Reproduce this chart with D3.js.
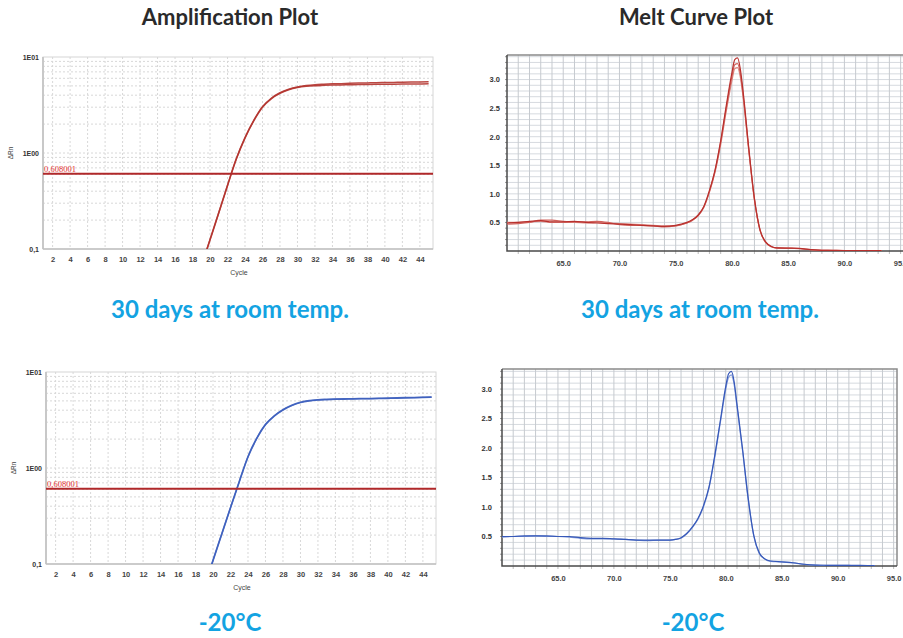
<!DOCTYPE html>
<html>
<head>
<meta charset="utf-8">
<script src="https://cdn.jsdelivr.net/npm/d3@7"></script>
<style>
body { margin: 0; background: #fff; }
svg { display: block; }
</style>
</head>
<body>
<svg id="chart" width="903" height="638"></svg>
<script>
// amplification data (delta Rn per cycle, from cycle 19 on; earlier cycles sit below 0.1)
var ampCycles = [19, 20, 21, 22, 23, 24, 25, 26, 27, 28, 29, 30, 31, 32, 33, 34, 35, 36, 37, 38, 39, 40, 41, 42, 43, 44, 45];
var ampRedA = [0.066, 0.126, 0.24, 0.462, 0.87, 1.45, 2.19, 3.04, 3.72, 4.24, 4.62, 4.88, 5.04, 5.14, 5.2, 5.25, 5.28, 5.32, 5.35, 5.37, 5.4, 5.42, 5.44, 5.47, 5.48, 5.5, 5.51];
var ampRedB = [0.065, 0.124, 0.237, 0.456, 0.86, 1.43, 2.16, 3.0, 3.67, 4.18, 4.55, 4.8, 4.95, 5.03, 5.07, 5.1, 5.12, 5.14, 5.16, 5.18, 5.19, 5.2, 5.21, 5.22, 5.23, 5.24, 5.25];
var ampBlueA = [0.058, 0.11, 0.207, 0.389, 0.724, 1.32, 2.05, 2.85, 3.5, 4.05, 4.5, 4.85, 5.05, 5.15, 5.2, 5.24, 5.26, 5.27, 5.29, 5.31, 5.33, 5.35, 5.38, 5.41, 5.44, 5.46, 5.5];
var ampBlueB = [0.057, 0.108, 0.204, 0.384, 0.716, 1.3, 2.02, 2.82, 3.47, 4.02, 4.46, 4.8, 5.0, 5.1, 5.15, 5.19, 5.21, 5.23, 5.25, 5.27, 5.29, 5.31, 5.34, 5.37, 5.4, 5.43, 5.47];
var threshold = 0.608001;
var cycleTicks = [2, 4, 6, 8, 10, 12, 14, 16, 18, 20, 22, 24, 26, 28, 30, 32, 34, 36, 38, 40, 42, 44];
var rnTicks = [0.1, 1, 10];
var rnTickLabels = ['0,1', '1E00', '1E01'];

// melt curve data (derivative reporter vs temperature)
var meltTemps = [60, 61, 62, 63, 64, 65, 66, 67, 68, 69, 70, 71, 72, 73, 74, 75, 75.5, 76, 76.5, 77, 77.5, 78, 78.5, 79, 79.5, 80, 80.25, 80.5, 80.75, 81, 81.5, 82, 82.5, 83, 83.5, 84, 85, 86, 87, 88, 89, 90, 91, 92, 93.3];
var meltRedA = [0.49, 0.5, 0.52, 0.53, 0.51, 0.51, 0.52, 0.5, 0.49, 0.48, 0.47, 0.46, 0.45, 0.44, 0.43, 0.45, 0.47, 0.5, 0.55, 0.63, 0.78, 1.06, 1.42, 1.93, 2.55, 3.12, 3.35, 3.38, 3.18, 2.78, 1.8, 0.92, 0.37, 0.16, 0.08, 0.055, 0.05, 0.045, 0.025, 0.012, 0.01, 0.008, 0.007, 0.006, 0.005];
var meltRedB = [0.47, 0.48, 0.5, 0.54, 0.54, 0.52, 0.51, 0.51, 0.52, 0.5, 0.46, 0.45, 0.45, 0.44, 0.42, 0.44, 0.46, 0.49, 0.54, 0.62, 0.77, 1.04, 1.4, 1.9, 2.5, 3.05, 3.26, 3.28, 3.1, 2.72, 1.77, 0.9, 0.36, 0.15, 0.075, 0.05, 0.048, 0.04, 0.022, 0.01, 0.009, 0.007, 0.006, 0.005, 0.004];
var meltRedC = [0.5, 0.5, 0.51, 0.52, 0.5, 0.5, 0.5, 0.49, 0.5, 0.49, 0.48, 0.47, 0.46, 0.45, 0.44, 0.44, 0.46, 0.49, 0.54, 0.62, 0.76, 1.03, 1.38, 1.86, 2.45, 2.98, 3.19, 3.21, 3.04, 2.68, 1.75, 0.9, 0.36, 0.15, 0.08, 0.055, 0.05, 0.044, 0.024, 0.012, 0.01, 0.008, 0.007, 0.006, 0.005];
var meltBlueA = [0.5, 0.5, 0.51, 0.51, 0.51, 0.5, 0.5, 0.48, 0.47, 0.47, 0.46, 0.45, 0.44, 0.44, 0.44, 0.44, 0.45, 0.48, 0.55, 0.66, 0.8, 1.02, 1.34, 1.86, 2.45, 3.05, 3.26, 3.3, 3.12, 2.74, 1.98, 1.15, 0.52, 0.22, 0.12, 0.085, 0.07, 0.055, 0.03, 0.016, 0.012, 0.01, 0.01, 0.009, 0.008];
var meltBlueB = [0.49, 0.5, 0.5, 0.51, 0.5, 0.5, 0.49, 0.47, 0.46, 0.46, 0.46, 0.45, 0.44, 0.43, 0.44, 0.44, 0.45, 0.47, 0.54, 0.65, 0.79, 1.0, 1.32, 1.83, 2.42, 3.0, 3.2, 3.24, 3.07, 2.7, 1.95, 1.13, 0.51, 0.21, 0.115, 0.08, 0.068, 0.053, 0.028, 0.015, 0.011, 0.01, 0.009, 0.008, 0.008];
var tempTicks = [65, 70, 75, 80, 85, 90, 95];
var derivTicks = [0.5, 1.0, 1.5, 2.0, 2.5, 3.0];

var svg = d3.select('#chart');
var tickFont = 'Liberation Sans, Arial, sans-serif';

function zip(xs, ys) {
    return xs.map(function(x, i) { return [x, ys[i]]; });
}

function ampPlot(box, series, colour, id) {
    var x = d3.scaleLinear().domain([0.9, 45.5]).range([box.x0, box.x1]);
    var y = d3.scaleLog().domain([0.1, 10]).range([box.y1, box.y0]);
    var g = svg.append('g');

    g.append('clipPath').attr('id', id)
        .append('rect')
        .attr('x', box.x0).attr('y', box.y0)
        .attr('width', box.x1 - box.x0).attr('height', box.y1 - box.y0);

    // dashed grid
    var minor = [];
    [0.1, 1].forEach(function(d) {
        for (var k = 2; k <= 9; k++) minor.push(d * k);
    });
    g.selectAll('.hgrid').data(minor.concat([1])).enter().append('line')
        .attr('x1', box.x0).attr('x2', box.x1)
        .attr('y1', function(d) { return y(d); })
        .attr('y2', function(d) { return y(d); })
        .attr('stroke', '#d8d8d8').attr('stroke-dasharray', '2,2');
    g.selectAll('.vgrid').data(cycleTicks).enter().append('line')
        .attr('y1', box.y0).attr('y2', box.y1)
        .attr('x1', function(d) { return x(d); })
        .attr('x2', function(d) { return x(d); })
        .attr('stroke', '#d8d8d8').attr('stroke-dasharray', '2,2');

    // frame
    g.append('rect')
        .attr('x', box.x0).attr('y', box.y0)
        .attr('width', box.x1 - box.x0).attr('height', box.y1 - box.y0)
        .attr('fill', 'none').attr('stroke', '#d6d6d6');
    g.append('line')
        .attr('x1', box.x0).attr('x2', box.x0)
        .attr('y1', box.y0).attr('y2', box.y1)
        .attr('stroke', '#c8c8c8').attr('stroke-width', 2);
    g.append('line')
        .attr('x1', box.x0).attr('x2', box.x1)
        .attr('y1', box.y1).attr('y2', box.y1)
        .attr('stroke', '#c0c0c0').attr('stroke-width', 1.5);

    // axes text
    var xAxis = d3.axisBottom(x).tickValues(cycleTicks).tickSize(0).tickPadding(8);
    var ax = g.append('g').attr('transform', 'translate(0,' + box.y1 + ')').call(xAxis);
    ax.select('.domain').remove();
    ax.selectAll('text').attr('font-family', tickFont).attr('font-size', 7.5)
        .attr('font-weight', 'bold').attr('fill', '#444');

    var yAxis = d3.axisLeft(y).tickValues(rnTicks).tickSize(0).tickPadding(4)
        .tickFormat(function(d, i) { return rnTickLabels[i]; });
    var ay = g.append('g').attr('transform', 'translate(' + box.x0 + ',0)').call(yAxis);
    ay.select('.domain').remove();
    ay.selectAll('text').attr('font-family', tickFont).attr('font-size', 7)
        .attr('font-weight', 'bold').attr('fill', '#333');

    g.append('text')
        .attr('transform', 'translate(' + (box.x0 - 30) + ',' + y(1) + ') rotate(-90)')
        .attr('text-anchor', 'middle')
        .attr('font-family', tickFont).attr('font-size', 6.5).attr('fill', '#444')
        .text('ΔRn');
    g.append('text')
        .attr('x', (box.x0 + box.x1) / 2 + 1).attr('y', box.y1 + 26)
        .attr('text-anchor', 'middle')
        .attr('font-family', tickFont).attr('font-size', 7).attr('fill', '#444')
        .text('Cycle');

    // curves
    var line = d3.line()
        .x(function(d) { return x(d[0]); })
        .y(function(d) { return y(d[1]); })
        .curve(d3.curveMonotoneX);
    var plot = g.append('g').attr('clip-path', 'url(#' + id + ')');
    series.forEach(function(s) {
        plot.append('path')
            .datum(zip(ampCycles, s))
            .attr('d', line)
            .attr('fill', 'none')
            .attr('stroke', colour).attr('stroke-width', 1.5).attr('stroke-opacity', 0.9);
    });

    // threshold
    g.append('line')
        .attr('x1', box.x0).attr('x2', box.x1)
        .attr('y1', y(threshold)).attr('y2', y(threshold))
        .attr('stroke', '#b0282a').attr('stroke-width', 2);
    g.append('text')
        .attr('x', box.x0 + 1).attr('y', y(threshold) - 2)
        .attr('font-family', 'Liberation Serif, Times New Roman, serif')
        .attr('font-size', 8.5).attr('fill', '#e2312f')
        .text('0,608001');
}

function meltPlot(box, series, colours, id) {
    var x = d3.scaleLinear().domain([60, 95.3]).range([box.x0, box.x1]);
    var y = d3.scaleLinear().domain([0, box.ymax]).range([box.y1, box.y0]);
    var g = svg.append('g');

    g.append('clipPath').attr('id', id)
        .append('rect')
        .attr('x', box.x0).attr('y', box.y0)
        .attr('width', box.x1 - box.x0).attr('height', box.y1 - box.y0);

    var hLines = d3.range(1, Math.floor(box.ymax * 10) + 1).map(function(k) { return k / 10; });
    var vLines = d3.range(61, 96);
    g.selectAll('.hgrid').data(hLines).enter().append('line')
        .attr('x1', box.x0).attr('x2', box.x1)
        .attr('y1', function(d) { return y(d); })
        .attr('y2', function(d) { return y(d); })
        .attr('stroke', '#d6dadf').attr('stroke-width', 1);
    g.selectAll('.vgrid').data(vLines).enter().append('line')
        .attr('y1', box.y0).attr('y2', box.y1)
        .attr('x1', function(d) { return x(d); })
        .attr('x2', function(d) { return x(d); })
        .attr('stroke', '#c6cacf').attr('stroke-width', 1);

    // small ticks outside the frame
    g.selectAll('.ytick').data(hLines).enter().append('line')
        .attr('x1', box.x0 - 2).attr('x2', box.x0)
        .attr('y1', function(d) { return y(d); })
        .attr('y2', function(d) { return y(d); })
        .attr('stroke', '#999');
    g.selectAll('.xtick').data(vLines).enter().append('line')
        .attr('y1', box.y1).attr('y2', box.y1 + 3)
        .attr('x1', function(d) { return x(d); })
        .attr('x2', function(d) { return x(d); })
        .attr('stroke', '#bbb');

    // frame
    g.append('path')
        .attr('d', 'M' + box.x0 + ',' + box.y0 + 'H' + box.x1 + 'V' + box.y1)
        .attr('fill', 'none').attr('stroke', '#8a8a8a').attr('stroke-width', 1.5);
    g.append('path')
        .attr('d', 'M' + box.x0 + ',' + box.y0 + 'V' + box.y1 + 'H' + box.x1)
        .attr('fill', 'none').attr('stroke', '#4a4a4a').attr('stroke-width', 1.5);

    var xAxis = d3.axisBottom(x).tickValues(tempTicks).tickSize(0).tickPadding(10)
        .tickFormat(d3.format('.1f'));
    var ax = g.append('g').attr('transform', 'translate(0,' + box.y1 + ')').call(xAxis);
    ax.select('.domain').remove();
    ax.selectAll('text').attr('font-family', tickFont).attr('font-size', 7.5)
        .attr('font-weight', 'bold').attr('fill', '#444');

    var yAxis = d3.axisLeft(y).tickValues(derivTicks).tickSize(0).tickPadding(box.pad)
        .tickFormat(d3.format('.1f'));
    var ay = g.append('g').attr('transform', 'translate(' + box.x0 + ',0)').call(yAxis);
    ay.select('.domain').remove();
    ay.selectAll('text').attr('font-family', tickFont).attr('font-size', 7.5)
        .attr('font-weight', 'bold').attr('fill', '#333');

    var line = d3.line()
        .x(function(d) { return x(d[0]); })
        .y(function(d) { return y(d[1]); })
        .curve(d3.curveMonotoneX);
    var plot = g.append('g').attr('clip-path', 'url(#' + id + ')');
    series.forEach(function(s, i) {
        plot.append('path')
            .datum(zip(meltTemps, s))
            .attr('d', line)
            .attr('fill', 'none')
            .attr('stroke', colours[i]).attr('stroke-width', 1.2);
    });
}

function heading(text, cx, y, colour, size) {
    svg.append('text')
        .attr('x', cx).attr('y', y)
        .attr('text-anchor', 'middle')
        .attr('font-family', 'Lato, Open Sans, sans-serif')
        .attr('font-weight', 'bold')
        .attr('font-size', size)
        .attr('fill', colour)
        .text(text);
}

ampPlot({x0: 43, x1: 433, y0: 57, y1: 249}, [ampRedB, ampRedA], '#b3332d', 'clipA1');
ampPlot({x0: 46, x1: 436, y0: 372, y1: 564}, [ampBlueB, ampBlueA], '#3d5fbe', 'clipA2');
meltPlot({x0: 507, x1: 904, y0: 55, y1: 251, ymax: 3.43, pad: 7},
    [meltRedC, meltRedB, meltRedA], ['#dc8a84', '#d0625c', '#b8302d'], 'clipM1');
meltPlot({x0: 502, x1: 897, y0: 369, y1: 566, ymax: 3.34, pad: 10},
    [meltBlueB, meltBlueA], ['#7f97d8', '#3658b8'], 'clipM2');

heading('Amplification Plot', 230, 25, '#2a2a2a', 22);
heading('Melt Curve Plot', 696, 25, '#2a2a2a', 22);
heading('30 days at room temp.', 230, 318, '#13a3e2', 24);
heading('30 days at room temp.', 700, 318, '#13a3e2', 24);
heading('-20°C', 230, 631, '#13a3e2', 24);
heading('-20°C', 693, 631, '#13a3e2', 24);
</script>
</body>
</html>
